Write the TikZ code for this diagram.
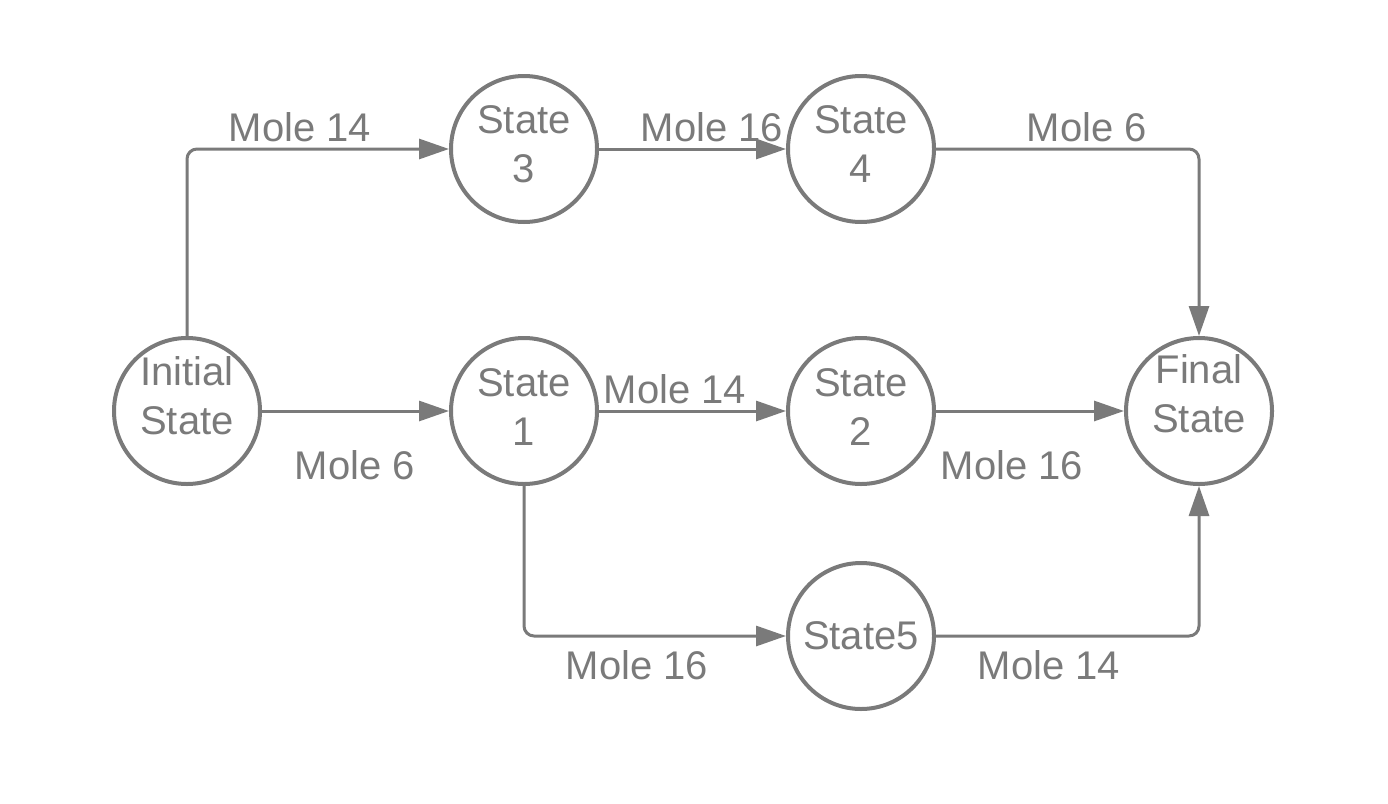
\documentclass[tikz,border=0pt]{standalone}
\usepackage{fontspec}
\setmainfont{Liberation Sans}
\usetikzlibrary{arrows.meta}
\definecolor{lc}{HTML}{7A7A7A}
\begin{document}
\begin{tikzpicture}[x=1pt,y=-1pt,
  state/.style={circle,draw=lc,line width=4pt,minimum size=146pt,inner sep=0pt},
  stxt/.style={text=lc,align=center,inner sep=0pt,font=\fontsize{40}{49}\selectfont},
  conn/.style={draw=lc,line width=3pt,rounded corners=10pt,
    -{Triangle[length=30pt,width=20pt]}},
  lbl/.style={text=lc,font=\fontsize{40}{48}\selectfont,inner sep=0pt}]
\useasboundingbox (0,0) rectangle (1388,803);
\node[state] (init) at (187,411) {};
\node[state] (s3) at (524,149) {};
\node[state] (s4) at (861,149) {};
\node[state] (s1) at (524,411) {};
\node[state] (s2) at (861,411) {};
\node[state] (fin) at (1199,411) {};
\node[state] (s5) at (861,636) {};
\node[stxt] (tinit) at ([yshift=15pt]init.center) {Initial\\State};
\node[stxt] (ts3) at ([yshift=5pt]s3.center) {State\\3};
\node[stxt] (ts4) at ([yshift=5pt]s4.center) {State\\4};
\node[stxt] (ts1) at ([yshift=4pt]s1.center) {State\\1};
\node[stxt] (ts2) at ([yshift=4pt]s2.center) {State\\2};
\node[stxt] (tfin) at ([yshift=17pt]fin.center) {Final\\State};
\node[stxt] (ts5) at (s5.center) {State5};
\draw[conn] (init.north) |- (s3.west);
\draw[conn] (s3.east) -- (s4.west);
\draw[conn] (s4.east) -| (fin.north);
\draw[conn] (init.east) -- (s1.west);
\draw[conn] (s1.east) -- (s2.west);
\draw[conn] (s2.east) -- (fin.west);
\draw[conn] (s1.south) |- (s5.west);
\draw[conn] (s5.east) -| (fin.south);
\node[lbl] (l1) at (300,127) {Mole 14};
\node[lbl] (l2) at (712,127) {Mole 16};
\node[lbl] (l3) at (1087,127) {Mole 6};
\node[lbl] (l4) at (355,465) {Mole 6};
\node[lbl] (l5) at (675,389) {Mole 14};
\node[lbl] (l6) at (1012,465) {Mole 16};
\node[lbl] (l7) at (637,665) {Mole 16};
\node[lbl] (l8) at (1049,665) {Mole 14};
\end{tikzpicture}
\end{document}
